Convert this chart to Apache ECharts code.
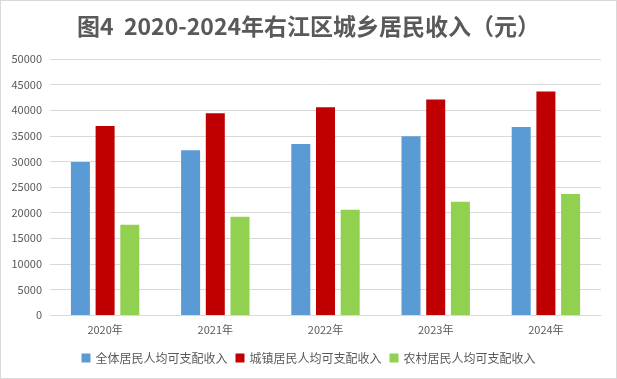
<!DOCTYPE html>
<html><head><meta charset="utf-8">
<script src="https://cdn.jsdelivr.net/npm/echarts@6/dist/echarts.min.js"></script>
<style>
html,body{margin:0;padding:0;background:#fff;}
#c{width:617px;height:379px;box-sizing:border-box;border:1px solid #d9d9d9;}
</style></head>
<body><div id="c"></div>
<script>
const categories = ['2020年','2021年','2022年','2023年','2024年'];
const seriesNames = ['全体居民人均可支配收入','城镇居民人均可支配收入','农村居民人均可支配收入'];
const allResidents = [29900, 32200, 33400, 34900, 36700];
const urbanResidents = [36900, 39400, 40600, 42100, 43650];
const ruralResidents = [17650, 19200, 20550, 22100, 23650];
const colors = ['#5b9bd5','#c00000','#92d050'];

const chart = echarts.init(document.getElementById('c'));
const font = '"Noto Sans CJK SC","Liberation Sans",sans-serif';
chart.setOption({
  animation:false,
  title:{
    text:'图4  2020-2024年右江区城乡居民收入（元）',
    left:'center', top:9,
    textStyle:{fontFamily:font,fontSize:23,fontWeight:'bold',color:'#595959'}
  },
  legend:{
    data:seriesNames, bottom:9, left:'center',
    itemWidth:9,itemHeight:9,itemGap:8,
    icon:'rect',
    textStyle:{fontFamily:font,fontSize:12,color:'#595959'}
  },
  grid:{left:49,right:15,top:58,bottom:63},
  xAxis:{
    type:'category', data:categories,
    axisLine:{lineStyle:{color:'#d9d9d9'}},
    axisTick:{show:false},
    axisLabel:{fontFamily:font,fontSize:11,color:'#595959',margin:9}
  },
  yAxis:{
    type:'value', min:0, max:50000, interval:5000,
    axisLine:{show:false}, axisTick:{show:false},
    splitLine:{lineStyle:{color:'#d9d9d9'}},
    axisLabel:{fontFamily:font,fontSize:11,color:'#595959',margin:8,formatter:function(v){return String(v);}}
  },
  series:[
    {name:seriesNames[0],type:'bar',data:allResidents,barWidth:19,barGap:'30%',itemStyle:{color:colors[0]}},
    {name:seriesNames[1],type:'bar',data:urbanResidents,barWidth:19,barGap:'30%',itemStyle:{color:colors[1]}},
    {name:seriesNames[2],type:'bar',data:ruralResidents,barWidth:19,barGap:'30%',itemStyle:{color:colors[2]}}
  ]
});
</script></body></html>
